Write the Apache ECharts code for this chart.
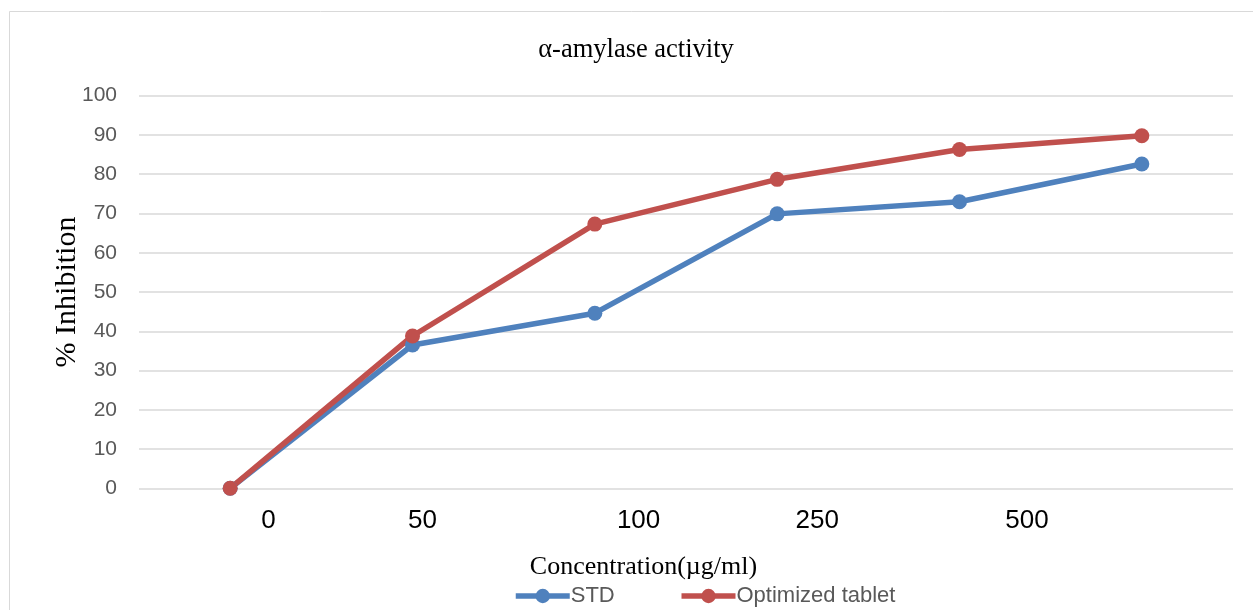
<!DOCTYPE html>
<html>
<head>
<meta charset="utf-8">
<script src="https://cdn.jsdelivr.net/npm/echarts@6/dist/echarts.min.js"></script>
<style>
  html, body { margin: 0; padding: 0; background: #ffffff; }
  #chart { width: 1253px; height: 610px; }
</style>
</head>
<body>
<div id="chart"></div>
<script>
// Concentration labels shown under the plot
const tickLabels = ['0', '50', '100', '250', '500'];
// % inhibition readings, one per measurement point
const stdValues = [0, 36.5, 44.6, 69.9, 73.0, 82.6];
const tabletValues = [0, 38.8, 67.3, 78.7, 86.3, 89.8];
const seriesNames = ['STD', 'Optimized tablet'];

// Where each concentration label sits along the point axis (layout only)
const labelSlots = [0.21, 1.055, 2.24, 3.22, 4.37];

const sans = '"Liberation Sans", Arial, sans-serif';
const serif = '"Liberation Serif", "Times New Roman", serif';

const chart = echarts.init(document.getElementById('chart'), null, { renderer: 'canvas' });

const toPairs = arr => arr.map((v, i) => [i, v]);

chart.setOption({
  animation: false,
  backgroundColor: '#ffffff',
  title: {
    text: 'α-amylase activity',
    left: 631,
    textAlign: 'center',
    top: 32,
    textStyle: { fontFamily: serif, fontSize: 26.5, fontWeight: 'normal', color: '#000000' }
  },
  graphic: [{
    type: 'rect',
    silent: true,
    shape: { x: 9.5, y: 11.5, width: 1400, height: 800 },
    style: { fill: 'none', stroke: '#d9d9d9', lineWidth: 1 }
  }],
  legend: {
    data: seriesNames,
    left: 508,
    top: 580,
    itemWidth: 54,
    itemHeight: 18,
    itemGap: 64,
    lineStyle: { width: 5.5 },
    textStyle: { fontFamily: sans, fontSize: 22, color: '#595959', padding: [0, 0, 0, -4] }
  },
  grid: { left: 139, right: 20, top: 95.7, bottom: 121.7 },
  xAxis: [
    {
      type: 'value',
      min: -0.5,
      max: 5.5,
      show: false
    },
    {
      type: 'value',
      min: -0.5,
      max: 5.5,
      position: 'bottom',
      axisLine: { show: false },
      axisTick: { show: false },
      splitLine: { show: false },
      axisLabel: {
        customValues: labelSlots,
        formatter: function (val) {
          let best = 0;
          for (let k = 1; k < labelSlots.length; k++) {
            if (Math.abs(labelSlots[k] - val) < Math.abs(labelSlots[best] - val)) best = k;
          }
          return tickLabels[best];
        },
        margin: 20,
        fontFamily: sans,
        fontSize: 26,
        color: '#000000'
      },
      name: 'Concentration(µg/ml)',
      nameLocation: 'middle',
      nameGap: 66,
      nameMoveOverlap: false,
      nameTextStyle: { fontFamily: serif, fontSize: 26, color: '#000000', padding: [0, 85, 0, 0] }
    }
  ],
  yAxis: {
    type: 'value',
    min: 0,
    max: 100,
    interval: 10,
    axisLine: { show: false },
    axisTick: { show: false },
    axisLabel: { margin: 22, fontFamily: sans, fontSize: 21, color: '#595959' },
    splitLine: { lineStyle: { color: '#d9d9d9', width: 1.5 } },
    name: '% Inhibition',
    nameLocation: 'middle',
    nameGap: 57,
    nameMoveOverlap: false,
    nameTextStyle: { fontFamily: serif, fontSize: 30, color: '#000000' }
  },
  series: [
    {
      name: seriesNames[0],
      type: 'line',
      xAxisIndex: 0,
      data: toPairs(stdValues),
      symbol: 'circle',
      symbolSize: 15,
      color: '#4f81bd',
      lineStyle: { width: 5.5, color: '#4f81bd' },
      itemStyle: { color: '#4f81bd' }
    },
    {
      name: seriesNames[1],
      type: 'line',
      xAxisIndex: 0,
      data: toPairs(tabletValues),
      symbol: 'circle',
      symbolSize: 15,
      color: '#c0504d',
      lineStyle: { width: 5.5, color: '#c0504d' },
      itemStyle: { color: '#c0504d' }
    }
  ]
});
</script>
</body>
</html>
